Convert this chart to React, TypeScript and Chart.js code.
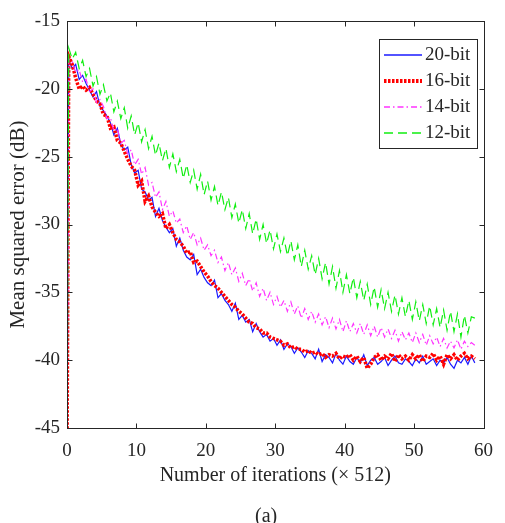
import React, { useEffect, useRef } from "react";
import { Chart, registerables } from "chart.js";

Chart.register(...registerables);

// Iteration axis (x 512): first sample at 0, then every half unit
const X_START = 0.25;
const X_STEP = 0.5;
const INITIAL_MSE = -48; // value at iteration 0 (below the axis)

const mse20bit = [
  -17.9, -18.5, -18.2, -19.3, -19.0, -19.6, -20.1, -20.6, -20.2, -21.3,
  -21.6, -22.0, -22.5, -23.4, -22.9, -24.1, -24.5, -24.3, -25.6, -26.2,
  -26.0, -27.4, -27.6, -28.2, -28.0, -29.4, -28.8, -29.7, -30.2, -30.6,
  -30.3, -31.6, -31.0, -31.9, -32.4, -32.6, -32.2, -33.7, -33.3, -33.9,
  -34.3, -34.5, -34.1, -35.4, -35.1, -35.6, -35.9, -36.4, -35.8, -37.0,
  -36.7, -37.2, -37.0, -37.9, -37.3, -37.9, -38.3, -38.1, -38.6, -38.4,
  -38.9, -38.5, -39.2, -38.8, -39.0, -39.5, -39.1, -39.4, -39.8, -39.3,
  -39.5, -39.9, -39.2, -40.1, -39.6, -39.8, -40.2, -39.5, -40.0, -40.3,
  -39.7, -40.1, -40.3, -39.8, -40.2, -39.6, -40.4, -40.0, -39.8, -40.3,
  -40.1, -39.8, -40.4, -40.0, -39.7, -40.2, -40.3, -39.9, -40.1, -40.4,
  -39.9, -40.2, -39.7, -40.3, -40.1, -39.9, -40.4, -40.0, -40.2, -39.8,
  -40.3, -40.6, -40.0, -40.2, -39.8, -40.3, -39.7, -40.2,
];

const mse16bit = [
  -17.6, -18.2, -19.2, -20.0, -19.8, -20.1, -19.9, -20.4, -20.9, -21.1,
  -21.9, -22.0, -22.9, -22.8, -23.8, -24.0, -24.6, -25.2, -25.7, -26.0,
  -27.1, -26.8, -28.3, -27.9, -28.7, -29.1, -29.4, -29.2, -30.3, -30.0,
  -30.6, -31.1, -31.3, -31.6, -32.1, -32.0, -32.8, -32.7, -33.1, -33.5,
  -33.8, -34.2, -34.5, -34.7, -35.0, -35.3, -35.6, -35.9, -36.1, -36.4,
  -36.6, -36.9, -37.2, -37.3, -37.6, -37.7, -38.0, -38.0, -38.3, -38.4,
  -38.5, -38.6, -38.9, -38.8, -39.1, -39.0, -39.2, -39.2, -39.4, -39.3,
  -39.5, -39.4, -39.6, -39.5, -39.8, -39.6, -39.7, -39.5, -39.9, -39.7,
  -39.8, -39.6, -40.0, -39.7, -40.1, -39.8, -40.6, -40.3, -39.8, -39.6,
  -40.0, -39.7, -39.9, -39.5, -40.1, -39.6, -39.9, -39.7, -40.0, -39.6,
  -39.9, -39.6, -40.1, -39.7, -39.8, -39.5, -40.0, -39.7, -40.3, -39.6,
  -39.9, -39.6, -40.0, -39.7, -39.5, -39.9, -39.7, -39.9,
];

const mse14bit = [
  -17.8, -18.0, -18.8, -18.6, -19.5, -19.3, -20.2, -20.0, -21.0, -20.8,
  -21.3, -22.2, -22.1, -23.1, -22.9, -24.0, -23.8, -24.8, -24.5, -25.6,
  -25.2, -26.3, -25.8, -27.1, -26.9, -28.0, -27.6, -28.9, -28.3, -29.4,
  -29.0, -29.9, -29.6, -30.6, -30.1, -31.1, -30.6, -31.5, -31.0, -31.9,
  -31.5, -32.3, -31.9, -32.8, -32.4, -33.4, -32.8, -33.7, -33.2, -34.2,
  -33.6, -34.5, -34.0, -34.9, -34.3, -35.3, -34.7, -35.6, -35.0, -35.9,
  -35.3, -36.1, -35.6, -36.4, -35.7, -36.6, -36.0, -36.9, -36.2, -37.0,
  -36.4, -37.2, -36.6, -37.4, -36.8, -37.6, -36.9, -37.7, -37.0, -37.9,
  -37.1, -37.9, -37.3, -38.0, -37.3, -38.1, -37.4, -38.2, -37.5, -38.3,
  -37.6, -38.3, -37.7, -38.4, -37.8, -38.6, -37.9, -38.5, -38.0, -38.7,
  -38.0, -38.7, -38.1, -38.9, -38.2, -38.8, -38.3, -39.0, -38.4, -39.1,
  -38.6, -39.1, -38.5, -39.2, -38.6, -39.0, -38.7, -38.9,
];

const mse12bit = [
  -17.0, -17.8, -17.3, -18.5, -17.9, -19.1, -18.5, -19.8, -19.1, -20.4,
  -19.7, -20.9, -20.3, -21.7, -20.9, -22.2, -21.4, -22.9, -22.0, -23.4,
  -22.5, -23.9, -23.0, -24.4, -23.5, -24.9, -24.0, -25.3, -24.4, -25.8,
  -24.8, -26.1, -25.2, -26.6, -25.6, -26.9, -26.0, -27.4, -26.3, -27.8,
  -26.8, -28.2, -27.2, -28.6, -27.6, -28.9, -28.0, -29.5, -28.5, -29.9,
  -28.9, -30.3, -29.2, -30.7, -29.6, -31.1, -30.0, -31.4, -30.4, -31.8,
  -30.7, -32.0, -31.0, -32.3, -31.2, -32.6, -31.5, -33.1, -31.9, -33.3,
  -32.3, -33.7, -32.5, -34.0, -32.8, -34.4, -33.1, -34.7, -33.4, -35.0,
  -33.7, -35.1, -33.9, -35.4, -34.2, -35.6, -34.4, -35.9, -34.6, -36.1,
  -34.8, -36.2, -35.0, -36.4, -35.2, -36.6, -35.4, -36.8, -35.6, -37.0,
  -35.7, -37.1, -35.9, -37.3, -36.0, -37.4, -36.2, -37.6, -36.3, -37.8,
  -36.4, -37.9, -36.6, -38.3, -36.7, -38.0, -36.8, -36.9,
];

const seriesLabels = ["20-bit", "16-bit", "14-bit", "12-bit"];
const seriesColors = ["#1a1aff", "#ff0000", "#ff33ff", "#11ee11"];
const seriesWidths = [1.2, 3.5, 1.2, 1.2];
const seriesDashes: number[][] = [[], [2.5, 1.5], [6, 3, 1.5, 3], [9, 5]];
const seriesOrder = [3, 2, 1, 0];
const xTitle = "Number of iterations (\u00D7 512)";
const yTitle = "Mean squared error (dB)";
const caption = "(a)";

const FONT = "'Liberation Serif', 'Times New Roman', serif";
const TEXT = "#262626";
const AXIS = "#262626";

function toPoints(vals: number[]) {
  return [{ x: 0, y: INITIAL_MSE }].concat(
    vals.map((v, i) => ({ x: X_START + i * X_STEP, y: v }))
  );
}

const framePlugin = {
  id: "matlabFrame",
  afterDatasetsDraw(chart: any) {
    const { ctx, chartArea, scales } = chart;
    const l = Math.round(chartArea.left) + 0.5;
    const r = Math.round(chartArea.right) + 0.5;
    const t = Math.round(chartArea.top) + 0.5;
    const b = Math.round(chartArea.bottom) + 0.5;
    ctx.save();
    ctx.strokeStyle = AXIS;
    ctx.lineWidth = 1;
    ctx.setLineDash([]);
    ctx.strokeRect(l, t, r - l, b - t);
    const tl = 5;
    ctx.beginPath();
    scales.x.ticks.forEach((tk: any) => {
      const px = Math.round(scales.x.getPixelForValue(tk.value)) + 0.5;
      ctx.moveTo(px, b);
      ctx.lineTo(px, b - tl);
      ctx.moveTo(px, t);
      ctx.lineTo(px, t + tl);
    });
    scales.y.ticks.forEach((tk: any) => {
      const py = Math.round(scales.y.getPixelForValue(tk.value)) + 0.5;
      ctx.moveTo(l, py);
      ctx.lineTo(l + tl, py);
      ctx.moveTo(r, py);
      ctx.lineTo(r - tl, py);
    });
    ctx.stroke();
    ctx.restore();
  },
  afterDraw(chart: any) {
    const { ctx } = chart;
    const bx = 379.5, by = 39.5, bw = 98, bh = 109;
    ctx.save();
    ctx.fillStyle = "#ffffff";
    ctx.fillRect(bx, by, bw, bh);
    ctx.strokeStyle = AXIS;
    ctx.lineWidth = 1;
    ctx.setLineDash([]);
    ctx.strokeRect(bx, by, bw, bh);
    ctx.font = `19px ${FONT}`;
    ctx.textBaseline = "middle";
    ctx.textAlign = "left";
    seriesLabels.forEach((label, i) => {
      const y = 55 + i * 26;
      ctx.beginPath();
      ctx.strokeStyle = seriesColors[i];
      ctx.lineWidth = i === 1 ? 4 : 1.6;
      ctx.lineCap = "butt";
      ctx.setLineDash(seriesDashes[i]);
      ctx.moveTo(384, y);
      ctx.lineTo(422, y);
      ctx.stroke();
      ctx.setLineDash([]);
      ctx.fillStyle = TEXT;
      ctx.fillText(label, 425, y + 0.5);
    });
    ctx.restore();
  },
};

export default function App() {
  const ref = useRef<HTMLCanvasElement | null>(null);

  useEffect(() => {
    if (!ref.current) return;
    const seriesData = [mse20bit, mse16bit, mse14bit, mse12bit];
    const chart = new Chart(ref.current, {
      type: "line",
      data: {
        datasets: seriesData.map((vals, i) => ({
          label: seriesLabels[i],
          data: toPoints(vals),
          borderColor: seriesColors[i],
          borderWidth: seriesWidths[i],
          borderDash: seriesDashes[i],
          order: seriesOrder[i],
        })) as any,
      },
      options: {
        animation: false,
        responsive: false,
        devicePixelRatio: 1,
        parsing: false as any,
        elements: { point: { radius: 0 }, line: { tension: 0, fill: false } },
        layout: { padding: { left: 0, right: 12, top: 21, bottom: 35 } },
        plugins: {
          legend: { display: false },
          tooltip: { enabled: false },
          title: { display: false },
        },
        scales: {
          x: {
            type: "linear",
            min: 0,
            max: 60,
            grid: { display: false, drawTicks: false },
            border: { display: false },
            ticks: {
              stepSize: 10,
              padding: 12,
              color: TEXT,
              font: { family: FONT, size: 19 },
              maxRotation: 0,
            },
            title: {
              display: true,
              text: xTitle,
              color: TEXT,
              font: { family: FONT, size: 20 },
              padding: { top: 0, bottom: 0 },
            },
            afterFit: (s: any) => {
              s.height = 60;
            },
          },
          y: {
            type: "linear",
            min: -45,
            max: -15,
            grid: { display: false, drawTicks: false },
            border: { display: false },
            ticks: {
              stepSize: 5,
              padding: 7,
              color: TEXT,
              font: { family: FONT, size: 19 },
            },
            title: {
              display: true,
              text: yTitle,
              color: TEXT,
              font: { family: FONT, size: 21 },
              padding: { top: 6, bottom: 0 },
            },
            afterFit: (s: any) => {
              s.width = 67;
            },
          },
        },
      },
      plugins: [framePlugin],
    });
    return () => chart.destroy();
  }, []);

  return (
    <div style={{ position: "fixed", left: 0, top: 0, width: 505, height: 523, background: "#fff" }}>
      <canvas ref={ref} width={505} height={523} style={{ display: "block" }} />
      <div
        style={{
          position: "absolute",
          left: 255,
          top: 503,
          fontFamily: FONT,
          fontSize: 20,
          lineHeight: "24px",
          color: TEXT,
        }}
      >
        {caption}
      </div>
    </div>
  );
}
